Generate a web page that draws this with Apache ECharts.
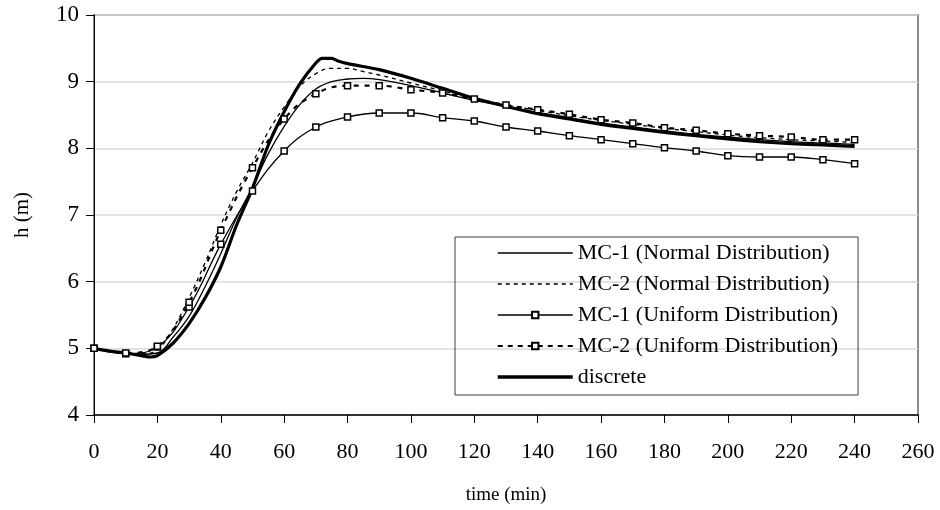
<!DOCTYPE html>
<html>
<head>
<meta charset="utf-8">
<script src="https://cdn.jsdelivr.net/npm/echarts@6/dist/echarts.min.js"></script>
<style>
  html, body { margin: 0; padding: 0; background: #fff; }
  #main { width: 940px; height: 510px; }
</style>
</head>
<body>
<div id="main"></div>
<script>
// time grids (min)
var tNormal = [0, 5, 10, 15, 20, 25, 30, 35, 40, 45, 50, 55, 60, 65, 70, 75, 80, 85, 90,
  100, 110, 120, 130, 140, 150, 160, 170, 180, 190, 200, 210, 220, 230, 240];
var tUniform = [0, 10, 20, 30, 40, 50, 60, 70, 80, 90, 100, 110, 120, 130, 140, 150,
  160, 170, 180, 190, 200, 210, 220, 230, 240];
var tDiscrete = [0, 5, 10, 15, 18, 20, 25, 30, 35, 40, 45, 50, 55, 60, 65, 70, 72, 75, 77, 80,
  90, 100, 110, 120, 130, 140, 150, 160, 170, 180, 190, 200, 210, 220, 230, 240];

// h (m)
var mc1Normal = [5.0, 4.96, 4.93, 4.91, 4.93, 5.17, 5.48, 5.92, 6.42, 6.96, 7.42, 7.92, 8.33, 8.66, 8.89, 9.0, 9.04, 9.05, 9.03,
  8.94, 8.83, 8.72, 8.63, 8.54, 8.46, 8.38, 8.32, 8.26, 8.21, 8.17, 8.13, 8.10, 8.08, 8.06];
var mc2Normal = [5.0, 4.96, 4.93, 4.92, 4.98, 5.3, 5.76, 6.28, 6.85, 7.35, 7.78, 8.25, 8.62, 8.93, 9.12, 9.2, 9.2, 9.15, 9.1,
  8.98, 8.86, 8.74, 8.65, 8.57, 8.49, 8.42, 8.36, 8.3, 8.25, 8.2, 8.16, 8.13, 8.11, 8.09];
var mc1Uniform = [5.0, 4.92, 5.02, 5.62, 6.56, 7.36, 7.96, 8.32, 8.47, 8.53, 8.53, 8.46, 8.41, 8.32, 8.26, 8.19,
  8.13, 8.07, 8.01, 7.96, 7.89, 7.87, 7.87, 7.83, 7.77];
var mc2Uniform = [5.0, 4.93, 5.03, 5.69, 6.77, 7.71, 8.44, 8.82, 8.94, 8.94, 8.88, 8.83, 8.74, 8.65, 8.58, 8.51,
  8.43, 8.38, 8.31, 8.27, 8.22, 8.19, 8.17, 8.13, 8.13];
var discrete = [5.0, 4.96, 4.93, 4.89, 4.87, 4.89, 5.08, 5.37, 5.75, 6.22, 6.85, 7.4, 8.05, 8.55, 8.97, 9.28, 9.35, 9.35, 9.31, 9.27,
  9.18, 9.05, 8.9, 8.75, 8.63, 8.52, 8.44, 8.36, 8.30, 8.24, 8.19, 8.14, 8.10, 8.07, 8.05, 8.03];

var names = ['MC-1 (Normal Distribution)', 'MC-2 (Normal Distribution)',
  'MC-1 (Uniform Distribution)', 'MC-2 (Uniform Distribution)', 'discrete'];

function pairs(t, v) {
  return t.map(function (x, i) { return [x, v[i]]; });
}

var font = 'Liberation Serif';
var chart = echarts.init(document.getElementById('main'));

var square = {
  symbol: 'rect',
  symbolSize: 6,
  itemStyle: { color: '#fff', borderColor: '#000', borderWidth: 1.5 }
};
var noMark = { opacity: 0 };

var option = {
  animation: false,
  textStyle: { fontFamily: font, color: '#000' },
  grid: {
    left: 94, right: 22, top: 15, bottom: 93,
    show: true, borderColor: '#8c8c8c', borderWidth: 2, backgroundColor: 'transparent'
  },
  legend: {
    orient: 'vertical',
    left: 455, top: 237,
    padding: [5, 20, 7, 41],
    itemWidth: 75, itemHeight: 8, itemGap: 9,
    borderColor: '#404040', borderWidth: 1,
    textStyle: { fontFamily: font, fontSize: 22, color: '#000' },
    data: [
      { name: names[0], itemStyle: noMark, lineStyle: { width: 1.3 } },
      { name: names[1], itemStyle: noMark, lineStyle: { width: 1.3, type: [4, 4] } },
      { name: names[2], lineStyle: { width: 1.5 } },
      { name: names[3], lineStyle: { width: 2.2, type: [5, 5] } },
      { name: names[4], itemStyle: noMark, lineStyle: { width: 3.5 } }
    ]
  },
  xAxis: {
    type: 'value', min: 0, max: 260, interval: 20,
    name: 'time (min)', nameLocation: 'middle', nameGap: 71,
    nameTextStyle: { fontFamily: font, fontSize: 19, color: '#000' },
    axisLine: { lineStyle: { color: '#000', width: 1.5 } },
    axisTick: { show: true, length: 8, lineStyle: { color: '#000' } },
    axisLabel: { fontFamily: font, fontSize: 22, color: '#000', margin: 26 },
    splitLine: { show: false }
  },
  yAxis: {
    type: 'value', min: 4, max: 10, interval: 1,
    name: 'h (m)', nameLocation: 'middle', nameGap: 61, nameRotate: 90,
    nameTextStyle: { fontFamily: font, fontSize: 21, color: '#000' },
    axisLine: { show: true, lineStyle: { color: '#000', width: 1 } },
    axisTick: { show: true, length: 8, lineStyle: { color: '#000' } },
    axisLabel: { fontFamily: font, fontSize: 23, color: '#000', margin: 15 },
    splitLine: { show: true, lineStyle: { color: '#d9d9d9', width: 1.5 } }
  },
  series: [
    {
      name: names[0], type: 'line', smooth: 0.4, symbol: 'none',
      lineStyle: { color: '#000', width: 1.3 },
      itemStyle: { color: '#000' },
      data: pairs(tNormal, mc1Normal)
    },
    {
      name: names[1], type: 'line', smooth: 0.4, symbol: 'none',
      lineStyle: { color: '#000', width: 1.3, type: [4, 4] },
      itemStyle: { color: '#000' },
      data: pairs(tNormal, mc2Normal)
    },
    Object.assign({
      name: names[2], type: 'line', smooth: 0.4,
      lineStyle: { color: '#000', width: 1.3 },
      data: pairs(tUniform, mc1Uniform)
    }, square),
    Object.assign({
      name: names[3], type: 'line', smooth: 0.4,
      lineStyle: { color: '#000', width: 2.2, type: [5, 6] },
      data: pairs(tUniform, mc2Uniform)
    }, square),
    {
      name: names[4], type: 'line', smooth: 0.3, symbol: 'none',
      lineStyle: { color: '#000', width: 3.2 },
      itemStyle: { color: '#000' },
      data: pairs(tDiscrete, discrete)
    }
  ]
};
chart.setOption(option);
</script>
</body>
</html>
